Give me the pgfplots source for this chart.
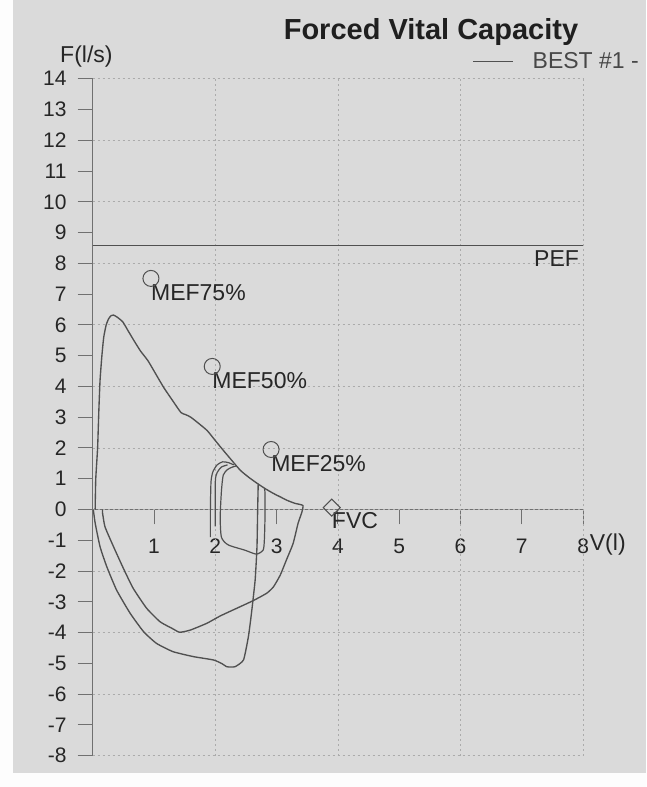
\documentclass[border=0pt]{standalone}
\usepackage{fontspec}
\setmainfont{Liberation Sans}
\usepackage{pgfplots}
\pgfplotsset{compat=1.18}
\definecolor{paper}{HTML}{DADADA}
\definecolor{ink}{HTML}{505050}
\definecolor{axisc}{HTML}{707070}
\definecolor{gridc}{HTML}{ABABAB}
\definecolor{txt}{HTML}{262626}
\newcommand{\fs}[1]{\fontsize{#1}{#1}\selectfont}
\begin{document}
\begin{tikzpicture}
\fill[paper] (-92.7pt,-277.5pt) rectangle (553.3pt,509.5pt);
\fill[white!96!paper] (-92.7pt,-277.5pt) rectangle (-80pt,509.5pt);
\fill[white!96!paper] (-92.7pt,-277.5pt) rectangle (553.3pt,-263pt);
\begin{axis}[
  at={(0pt,0pt)}, anchor=origin,
  x=61.3pt, y=30.77pt,
  xmin=0, xmax=8, ymin=-8, ymax=14,
  axis x line=middle, axis y line=left,
  axis line style={-, axisc, line width=1.1pt},
  clip=false,
  xtick={1,...,8}, ytick={-8,...,14},
  tick align=outside,
  major tick length=15pt,
  tick style={axisc, line width=1pt},
  /pgf/number format/assume math mode=true,
  ticklabel style={font=\fs{21}, text=txt, inner sep=0pt},
  xticklabel style={anchor=north, yshift=-14pt},
  yticklabel style={anchor=east, xshift=-11pt},
  extra x ticks={2,4,6,8}, extra x tick labels={},
  extra y ticks={-8,-6,...,14}, extra y tick labels={},
  extra tick style={grid=major, major tick length=0pt},
  grid style={gridc, line width=0.8pt, dash pattern=on 2pt off 3pt},
  legend style={at={(axis description cs:0.775,1.026)}, anchor=west,
    draw=none, fill=none, inner sep=0pt, outer sep=0pt,
    nodes={inner sep=0pt, outer sep=0pt},
    font=\fs{23}, text=txt!85},
  legend image code/.code={\draw[#1, line width=0.9pt] (0pt,0pt) -- (40pt,0pt);},
]
% expiration and inner inspiration (best trial)
\addplot[ink, line width=1.35pt, smooth, tension=0.3] coordinates {
(0.04,0)(0.05,1.0)(0.08,2.0)(0.1,3.2)(0.12,4.2)(0.15,5.0)(0.18,5.6)(0.22,6.0)
(0.26,6.2)(0.3,6.3)(0.34,6.32)(0.4,6.25)(0.49,6.1)(0.58,5.8)(0.67,5.5)(0.78,5.15)
(0.9,4.84)(1.03,4.4)(1.16,3.96)(1.3,3.55)(1.44,3.15)(1.52,3.08)(1.6,3.0)(1.74,2.78)
(1.87,2.56)(2.0,2.24)(2.14,1.9)(2.28,1.57)(2.41,1.27)(2.55,1.04)(2.69,0.84)(2.82,0.67)
(2.95,0.52)(3.07,0.4)(3.18,0.29)(3.3,0.2)(3.43,0.13)(3.41,-0.1)(3.35,-0.45)(3.27,-1.1)
(3.16,-1.64)(3.06,-2.13)(2.95,-2.51)(2.84,-2.72)(2.62,-2.96)(2.35,-3.21)(2.08,-3.46)
(1.86,-3.7)(1.59,-3.92)(1.42,-3.99)(1.31,-3.88)(1.1,-3.65)(0.88,-3.21)(0.66,-2.56)
(0.5,-1.91)(0.34,-1.21)(0.2,-0.56)(0.16,-0.1)(0.16,0)};
\addlegendentry{\hspace*{19pt}BEST \#1 -}
% outer inspiration
\addplot[ink, line width=1.35pt, smooth, tension=0.3, forget plot] coordinates {
(0.01,0)(0.04,-0.44)(0.12,-1.21)(0.23,-1.86)(0.39,-2.62)(0.61,-3.37)(0.83,-3.97)
(1.04,-4.35)(1.31,-4.62)(1.64,-4.78)(1.97,-4.89)(2.1,-5.0)(2.19,-5.11)(2.32,-5.11)
(2.46,-4.89)(2.54,-4.13)(2.59,-3.37)(2.65,-2.29)(2.68,-1.21)(2.69,-0.12)(2.7,0.84)};
% small loops
\addplot[ink, line width=1.2pt, smooth, tension=0.4, forget plot] coordinates {
(1.92,-0.9)(1.92,0)(1.93,0.9)(1.96,1.22)(2.03,1.45)(2.12,1.55)(2.22,1.52)(2.3,1.45)};
\addplot[ink, line width=1.2pt, smooth, tension=0.4, forget plot] coordinates {
(2.0,-0.55)(2.0,0.9)(2.03,1.2)(2.1,1.38)(2.2,1.45)};
\addplot[ink, line width=1.2pt, smooth, tension=0.4, forget plot] coordinates {
(2.35,1.42)(2.28,1.38)(2.2,1.3)(2.13,1.12)(2.1,0.6)(2.08,-0.25)(2.1,-0.9)(2.21,-1.15)
(2.48,-1.32)(2.67,-1.45)(2.78,-1.32)(2.8,-1.0)(2.81,-0.3)(2.81,0.55)(2.8,0.68)};
% PEF line
\addplot[ink, line width=1pt, forget plot] coordinates {(0,8.58)(8,8.58)};
% MEF markers
\addplot[only marks, mark=o, mark size=8pt, ink, mark options={line width=1pt}, forget plot]
  coordinates {(0.95,7.51)(1.95,4.65)(2.91,1.95)};
% FVC marker
\addplot[only marks, mark=square, mark size=6pt, ink, mark options={rotate=45, line width=1pt}, forget plot]
  coordinates {(3.9,0.06)};
\node[anchor=north west, inner sep=0pt, font=\fs{23}, text=txt, yshift=-6pt] at (axis cs:0.95,7.51) {MEF75\%};
\node[anchor=north west, inner sep=0pt, font=\fs{23}, text=txt, yshift=-6pt] at (axis cs:1.95,4.65) {MEF50\%};
\node[anchor=north west, inner sep=0pt, font=\fs{23}, text=txt, yshift=-6pt] at (axis cs:2.91,1.95) {MEF25\%};
\node[anchor=north west, inner sep=0pt, font=\fs{23}, text=txt, yshift=-5pt] at (axis cs:3.9,0.06) {FVC};
\node[anchor=north east, inner sep=0pt, font=\fs{23}, text=txt, yshift=-5pt, xshift=-4pt] at (axis cs:8,8.58) {PEF};
\end{axis}
\node[font=\bfseries\fs{29}, text=black!88] at (338.3pt,477.5pt) {Forced Vital Capacity};
\node[anchor=west, inner sep=0pt, font=\fs{23}, text=txt] at (-32.7pt,452.5pt) {F(l/s)};
\node[anchor=west, inner sep=0pt, font=\fs{23}, text=txt] at (497pt,-35.5pt) {V(l)};
\end{tikzpicture}
\end{document}
